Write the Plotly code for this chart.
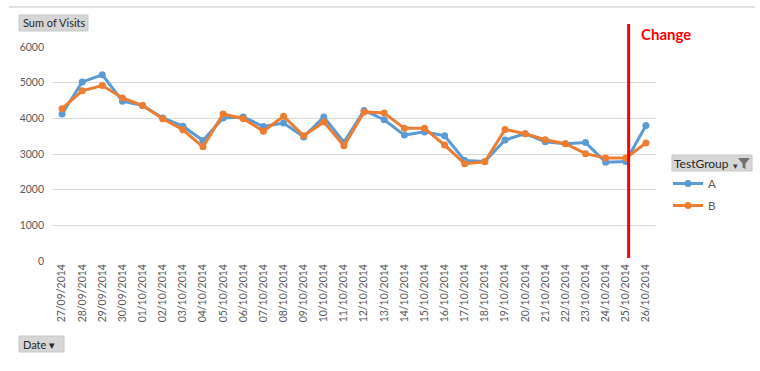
import plotly.graph_objects as go

dates = ["27/09/2014", "28/09/2014", "29/09/2014", "30/09/2014", "01/10/2014", "02/10/2014",
         "03/10/2014", "04/10/2014", "05/10/2014", "06/10/2014", "07/10/2014", "08/10/2014",
         "09/10/2014", "10/10/2014", "11/10/2014", "12/10/2014", "13/10/2014", "14/10/2014",
         "15/10/2014", "16/10/2014", "17/10/2014", "18/10/2014", "19/10/2014", "20/10/2014",
         "21/10/2014", "22/10/2014", "23/10/2014", "24/10/2014", "25/10/2014", "26/10/2014"]
visits_a = [4120, 5020, 5220, 4480, 4360, 4010, 3780, 3380, 4010, 4040, 3770, 3870,
            3480, 4040, 3330, 4220, 3960, 3530, 3620, 3510, 2820, 2790, 3390, 3570,
            3340, 3290, 3320, 2770, 2790, 3800]
visits_b = [4270, 4770, 4920, 4570, 4360, 3990, 3680, 3200, 4120, 3990, 3640, 4060,
            3510, 3900, 3230, 4180, 4150, 3720, 3720, 3250, 2730, 2780, 3690, 3570,
            3400, 3290, 3010, 2890, 2890, 3310]
y_ticks = [0, 1000, 2000, 3000, 4000, 5000, 6000]
change_date = "25/10/2014"

FONT = "Lato, 'Open Sans', sans-serif"
GRID = "#d9d9d9"
TICK = "#595959"

fig = go.Figure()
fig.add_trace(go.Scatter(x=dates, y=visits_a, name="A", mode="lines+markers", legendgroup="A",
                         line=dict(color="#5B9BD5", width=3),
                         marker=dict(color="#5B9BD5", size=7)))
fig.add_trace(go.Scatter(x=dates, y=visits_b, name="B", mode="lines+markers", legendgroup="B",
                         line=dict(color="#ED7D31", width=3),
                         marker=dict(color="#ED7D31", size=7)))

W, H = 604.0, 214.0
def px(x):
    return (x - 52) / W
def py(y):
    return (261 - y) / H

ci = dates.index(change_date)
fig.add_shape(type="line", xref="x", yref="paper", x0=ci + 0.14, x1=ci + 0.14,
              y0=py(258), y1=py(24), line=dict(color="#FF0000", width=3))
fig.add_annotation(text="<b>Change</b>", xref="paper", yref="paper", x=px(639), y=py(34),
                   xanchor="left", yanchor="middle", showarrow=False,
                   font=dict(family=FONT, size=15, color="#FF0000"))

# top border line
fig.add_shape(type="line", xref="paper", yref="paper", x0=px(9), x1=px(755),
              y0=py(7), y1=py(7), line=dict(color=GRID, width=1.5))

# field buttons
def button(x0, x1, y0, y1, text, tx, size=11):
    fig.add_shape(type="rect", xref="paper", yref="paper", x0=px(x0), x1=px(x1),
                  y0=py(y1), y1=py(y0),
                  fillcolor="#d6d6d6", line=dict(color="#c8c8c8", width=1), layer="above")
    fig.add_annotation(text=text, xref="paper", yref="paper", x=px(tx), y=py((y0 + y1) / 2),
                       xanchor="left", yanchor="middle", showarrow=False,
                       font=dict(family=FONT, size=size, color="#262626"))

button(19, 88, 15, 31, "Sum of Visits", 21)
button(19, 64, 336, 352, "Date ▾", 21)
button(672, 752, 155, 171, "TestGroup", 672, size=12)
fig.add_annotation(text="▾", xref="paper", yref="paper", x=px(730.5), y=py(165),
                   xanchor="left", yanchor="middle", showarrow=False,
                   font=dict(family=FONT, size=9, color="#404040"))
funnel = [(738, 158), (750, 158), (745.5, 163.5), (745.5, 169), (742.5, 167.5), (742.5, 163.5)]
path = "M " + " L ".join(f"{px(a):.5f} {py(b):.5f}" for a, b in funnel) + " Z"
fig.add_shape(type="path", xref="paper", yref="paper", path=path,
              fillcolor="#707070", line=dict(width=0), layer="above")

fig.update_layout(
    width=760, height=371,
    margin=dict(l=52, r=104, t=47, b=110),
    paper_bgcolor="white", plot_bgcolor="white",
    font=dict(family=FONT, size=10, color=TICK),
    showlegend=True,
    legend=dict(x=px(668), y=py(169), xanchor="left", yanchor="top",
                font=dict(family=FONT, size=11.5, color=TICK),
                bgcolor="rgba(0,0,0,0)", tracegroupgap=3, itemwidth=30),
    xaxis=dict(type="category", range=[-0.5, len(dates) - 0.5], tickangle=-90,
               showgrid=False, showline=False, ticks="",
               tickfont=dict(family=FONT, size=10.5, color=TICK)),
    yaxis=dict(range=[0, 6000], tickvals=y_ticks, showgrid=True, gridcolor=GRID,
               gridwidth=1, zeroline=False, showline=False, ticks="",
               tickfont=dict(family=FONT, size=10.5, color=TICK), ticklabelstandoff=7),
)

fig.write_html("out.html", config={"displayModeBar": False},
               post_script="document.body.style.margin='0';")
